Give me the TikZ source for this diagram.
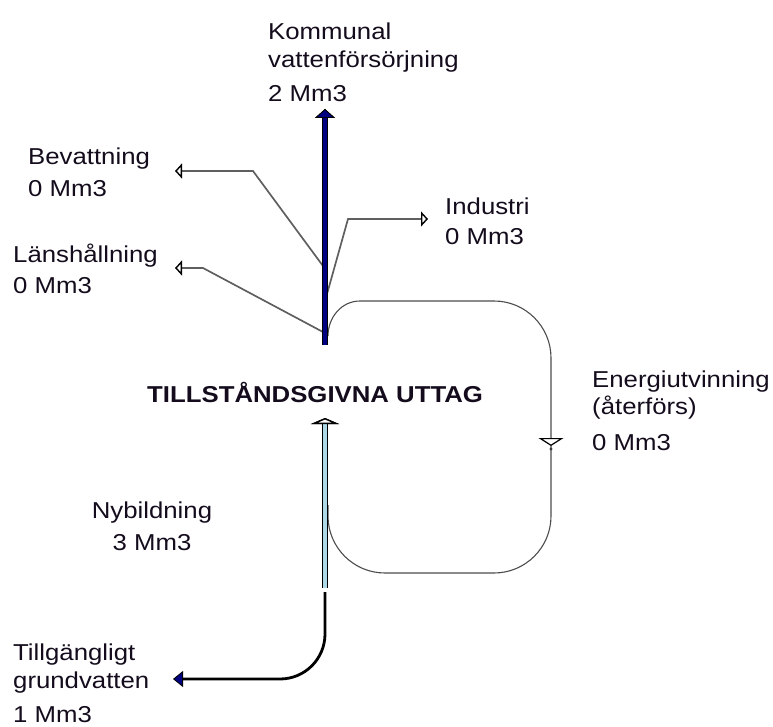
\documentclass[tikz,border=0pt]{standalone}
\usepackage{fontspec}
\setmainfont{Liberation Sans}[FakeStretch=1.12]
\usetikzlibrary{arrows.meta}
\definecolor{navyflow}{RGB}{0,0,128}
\definecolor{inflow}{RGB}{173,216,230}
\definecolor{branchgray}{RGB}{95,95,95}
\definecolor{txt}{RGB}{20,12,28}

\tikzset{
  lbl/.style={anchor=base west, inner sep=0pt, text=txt, font=\fontsize{23}{28}\selectfont},
  branchline/.style={draw=branchgray, line width=1.7pt,
    -{Triangle[open, length=7pt, width=15pt, line width=1.4pt, color=black]}},
  loopline/.style={draw=branchgray!80!black, line width=1.1pt},
  stem/.style={draw=navyflow, line width=3.6pt, preaction={draw=black, line width=5.8pt},
    -{Triangle[length=9pt, width=20pt, line width=0.8pt, color=black, fill=navyflow]}},
  inpipe/.style={draw=inflow, line width=4pt, preaction={draw=black, line width=6pt},
    -{Triangle[length=6pt, width=28pt, line width=1.4pt, color=black, fill=white]}},
  outpipe/.style={draw=black, line width=2.8pt, rounded corners=45,
    -{Triangle[length=10pt, width=16pt, line width=0.8pt, color=black, fill=navyflow]}}
}

\begin{document}
\begin{tikzpicture}[x=1pt,y=1pt]
  \useasboundingbox (0,0) rectangle (773,-727);

  % labels
  \node[lbl] (kom) at (268,-40) {Kommunal};
  \node[lbl] (komb) at (268,-68) {vattenförsörjning};
  \node[lbl] (komq) at (268,-102) {2 Mm3};
  \node[lbl] (bev) at (28,-165) {Bevattning};
  \node[lbl] (bevq) at (28,-197) {0 Mm3};
  \node[lbl] (lan) at (13,-262) {Länshållning};
  \node[lbl] (lanq) at (13,-293) {0 Mm3};
  \node[lbl] (ind) at (445,-215) {Industri};
  \node[lbl] (indq) at (445,-245) {0 Mm3};
  \node[lbl] (ene) at (592,-387) {Energiutvinning};
  \node[lbl] (eneb) at (592,-414) {(återförs)};
  \node[lbl] (eneq) at (592,-450) {0 Mm3};
  \node[lbl, anchor=base] (nyb) at (152,-518) {Nybildning};
  \node[lbl, anchor=base] (nybq) at (152,-550) {3 Mm3};
  \node[lbl] (tgv) at (13,-660) {Tillgängligt};
  \node[lbl] (tgvb) at (13,-688) {grundvatten};
  \node[lbl] (tgvq) at (13,-722) {1 Mm3};
  \node[lbl, font=\fontsize{23}{28}\selectfont\bfseries] (uttag) at (147,-402) {TILLSTÅNDSGIVNA UTTAG};

  % points on the flows
  \coordinate (s0) at (325,-345);
  \coordinate (s1) at (325,-109);
  \coordinate (bev0) at (323,-266);
  \coordinate (bevk) at (253,-171);
  \coordinate (bevt) at (175,-171);
  \coordinate (lan0) at (323,-332);
  \coordinate (lank) at (203,-268);
  \coordinate (lant) at (175,-268);
  \coordinate (ind0) at (327,-294);
  \coordinate (indk) at (348,-219);
  \coordinate (indt) at (428,-219);
  \coordinate (lp0) at (328,-336);
  \coordinate (lpa) at (360,-301);
  \coordinate (lpb) at (551,-301);
  \coordinate (lpe) at (551,-446);
  \coordinate (lpc) at (551,-573);
  \coordinate (lpd) at (328,-573);
  \coordinate (lpf) at (328,-505);
  \coordinate (in0) at (325,-588);
  \coordinate (in1) at (325,-418);
  \coordinate (out0) at (325,-592);
  \coordinate (out1) at (325,-679);
  \coordinate (out2) at (173,-679);

  % energy loop
  \draw[loopline, -{Triangle[open, length=8pt, width=25pt, line width=1.2pt, color=black]}]
    (lp0) to[out=90,in=180] (lpa) [rounded corners=57] -- (lpb) -- (lpe);
  \draw[loopline, rounded corners=57] (lpe) -- (lpc) -- (lpd) -- (lpf);
  \fill[branchgray!60!black] ([yshift=-3]lpe) circle (1.6pt);

  % branches
  \draw[branchline] (bev0) -- (bevk) -- (bevt);
  \draw[branchline] (lan0) -- (lank) -- (lant);
  \draw[branchline] (ind0) -- (indk) -- (indt);

  % main flows
  \draw[stem] (s0) -- (s1);
  \draw[inpipe] (in0) -- (in1);
  \draw[outpipe] (out0) -- (out1) -- (out2);
\end{tikzpicture}
\end{document}
